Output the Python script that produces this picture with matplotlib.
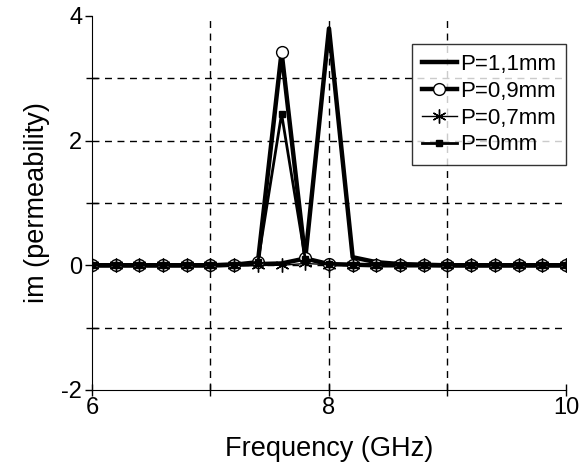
import matplotlib
matplotlib.use("Agg")
import matplotlib.pyplot as plt
import numpy as np

plt.rcParams['font.family'] = ['Liberation Sans', 'DejaVu Sans']
plt.rcParams['axes.unicode_minus'] = False

freq = [6.0, 6.2, 6.4, 6.6, 6.8, 7.0, 7.2, 7.4, 7.6, 7.8, 8.0,
        8.2, 8.4, 8.6, 8.8, 9.0, 9.2, 9.4, 9.6, 9.8, 10.0]
p11 = [0, 0, 0, 0, 0, 0, 0.01, 0.02, 0.03, 0.11, 3.8,
       0.13, 0.05, 0.02, 0.01, 0, 0, 0, 0, 0, 0]
p09 = [0, 0, 0, 0, 0, 0, 0.01, 0.05, 3.42, 0.11, 0.02,
       0.01, 0, 0, 0, 0, 0, 0, 0, 0, 0]
p07 = [0, 0, 0, 0, 0, 0, 0, 0, 0, 0.03, 0.01,
       0, 0, 0, 0, 0, 0, 0, 0, 0, 0]
p00 = [0, 0, 0, 0, 0, 0, 0.01, 0.05, 2.43, 0.1, 0.02,
       0.01, 0, 0, 0, 0, 0, 0, 0, 0, 0]
labels = ['P=1,1mm', 'P=0,9mm', 'P=0,7mm', 'P=0mm']

fig = plt.figure(figsize=(5.87, 4.73), dpi=100)
ax = fig.add_axes([0.1567, 0.1755, 0.8075, 0.7907])

for v in [-1, 0, 1, 2, 3]:
    ax.axhline(v, color='black', lw=1, ls=(0, (5, 4)), zorder=1)
for v in [7, 8, 9]:
    ax.axvline(v, color='black', lw=1, ls=(0, (5, 4)), zorder=1)

ax.plot(freq, p11, color='black', lw=3.2, label=labels[0], zorder=3)
ax.plot(freq, p09, color='black', lw=3.2, marker='o', ms=8.5, mfc='white',
        mec='black', mew=1, label=labels[1], zorder=4)
ax.plot(freq, p07, color='black', lw=1, marker=(6, 2, 0), ms=10,
        mew=1, label=labels[2], zorder=5)
ax.plot(freq, p00, color='black', lw=2, marker='s', ms=5,
        label=labels[3], zorder=6)

ax.set_xlim(6, 10)
ax.set_ylim(-2, 4)
ax.set_xticks([6, 8, 10])
ax.set_xticks([7, 9], minor=True)
ax.set_yticks([-2, 0, 2, 4])
ax.set_yticks([-1, 1, 3], minor=True)
ax.tick_params(which='both', direction='inout', length=8, width=1,
               labelsize=17, colors='black')
ax.tick_params(axis='y', which='major', direction='out', length=5, pad=2)
ax.tick_params(axis='x', which='major', pad=1)
ax.spines['top'].set_visible(False)
ax.spines['right'].set_visible(False)

ax.set_xlabel('Frequency (GHz)', fontsize=19.5, labelpad=12)
ax.set_ylabel('im (permeability)', fontsize=19.5, labelpad=8)

leg = ax.legend(loc='upper right', bbox_to_anchor=(1.0, 0.925), fontsize=16,
                frameon=True, fancybox=False, edgecolor='black',
                handlelength=1.55, handletextpad=0.15, borderpad=0.45,
                labelspacing=0.26, borderaxespad=0)
leg.get_frame().set_linewidth(1)
leg.set_zorder(10)

fig.savefig('out.png', dpi=100)
